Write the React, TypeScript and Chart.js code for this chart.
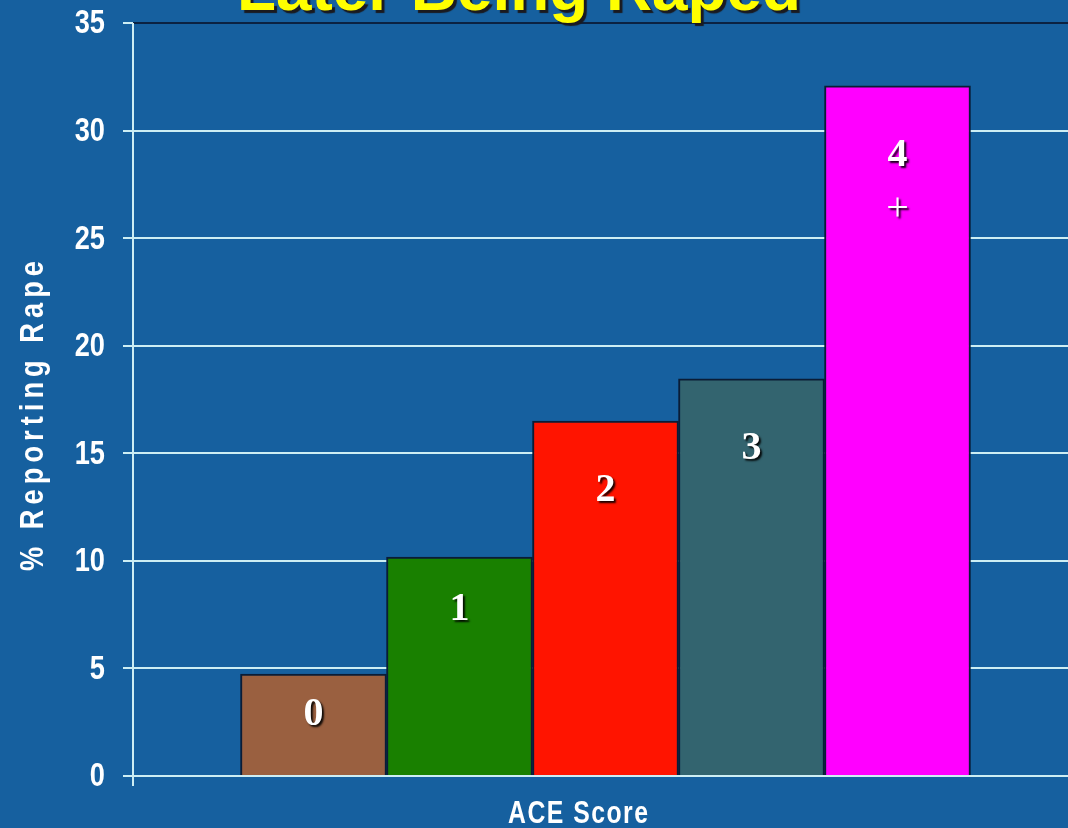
import React, { useEffect, useRef } from 'react';
import { Chart, registerables } from 'chart.js';

Chart.register(...registerables);

const categories = ['0', '1', '2', '3', '4+'];
const values = [4.74, 10.18, 16.5, 18.46, 32.08];
const barColors = ['#9a6040', '#198000', '#ff1400', '#33646f', '#ff00ff'];
const yMin = 0;
const yMax = 35;
const yStep = 5;
const titleText = 'Later Being Raped';
const yTitle = '% Reporting Rape';
const xTitle = 'ACE Score';

const BG = '#16609f';
const LIGHT = '#cdeef4';
const DARK = '#0b2242';
const SANS = '"Liberation Sans", Arial, sans-serif';
const SQUEEZE = 0.8;

function fillSqueezed(ctx: any, text: string, x: number, y: number, font: string, align: string, targetWidth?: number) {
  ctx.save();
  ctx.font = font;
  ctx.translate(x, y);
  ctx.scale(SQUEEZE, 1);
  ctx.textAlign = 'left';
  let spacing = 0;
  const w0 = ctx.measureText(text).width;
  if (targetWidth) {
    spacing = Math.max(0, (targetWidth / SQUEEZE - w0) / Math.max(1, text.length - 1));
  }
  const total = w0 + spacing * (text.length - 1);
  let start = 0;
  if (align === 'center') start = -total / 2;
  else if (align === 'right') start = -total;
  let cx = start;
  for (const ch of text) {
    ctx.fillText(ch, cx, 0);
    cx += ctx.measureText(ch).width + spacing;
  }
  ctx.restore();
}

const decor = {
  id: 'decor',
  beforeDraw(chart: any) {
    const { ctx, width, height } = chart;
    ctx.save();
    ctx.fillStyle = BG;
    ctx.fillRect(0, 0, width, height);
    ctx.restore();
  },
  afterDatasetsDraw(chart: any) {
    const { ctx } = chart;
    const meta = chart.getDatasetMeta(0);
    ctx.save();
    ctx.fillStyle = '#ffffff';
    ctx.textAlign = 'center';
    ctx.textBaseline = 'middle';
    ctx.shadowColor = 'rgba(0,0,0,0.9)';
    ctx.shadowOffsetX = 2;
    ctx.shadowOffsetY = 2;
    ctx.shadowBlur = 2;
    meta.data.forEach((el: any, i: number) => {
      const label = categories[i];
      const h = el.base - el.y;
      const y = el.y + Math.max(41, Math.min(70, h * 0.24));
      const main = label.replace('+', '');
      ctx.font = 'bold 40px "Liberation Serif", "Times New Roman", serif';
      ctx.fillText(main, el.x, y);
      if (label.includes('+')) {
        ctx.font = 'normal 40px "Liberation Serif", "Times New Roman", serif';
        ctx.fillText('+', el.x, y + 54);
      }
    });
    ctx.restore();
  },
  afterDraw(chart: any) {
    const { ctx, chartArea } = chart;
    const yScale = chart.scales.y;
    ctx.save();
    // y axis line
    ctx.strokeStyle = LIGHT;
    ctx.lineWidth = 2;
    ctx.beginPath();
    ctx.moveTo(chartArea.left, chartArea.top);
    ctx.lineTo(chartArea.left, chartArea.bottom + 10);
    ctx.stroke();

    // y tick labels
    ctx.fillStyle = '#ffffff';
    ctx.textBaseline = 'middle';
    yScale.ticks.forEach((t: any) => {
      const py = yScale.getPixelForValue(t.value);
      fillSqueezed(ctx, String(t.value), chartArea.left - 28, py + 1, `bold 34px ${SANS}`, 'right');
    });
    ctx.textBaseline = 'alphabetic';

    // title (cropped at top)
    let size = 64;
    ctx.font = `bold ${size}px ${SANS}`;
    const w = ctx.measureText(titleText).width;
    size = size * 564 / w;
    ctx.font = `bold ${size}px ${SANS}`;
    ctx.textAlign = 'center';
    ctx.shadowColor = '#1a1a20';
    ctx.shadowOffsetX = 3;
    ctx.shadowOffsetY = 3;
    ctx.shadowBlur = 1;
    ctx.fillStyle = '#ffff00';
    ctx.fillText(titleText, 519, 10);
    ctx.shadowColor = 'transparent';
    ctx.shadowOffsetX = 0;
    ctx.shadowOffsetY = 0;
    ctx.shadowBlur = 0;

    // y title
    ctx.fillStyle = '#ffffff';
    ctx.save();
    ctx.translate(43, 416);
    ctx.rotate(-Math.PI / 2);
    fillSqueezed(ctx, yTitle, 0, 0, `bold 34px ${SANS}`, 'center', 310);
    ctx.restore();

    // x title
    fillSqueezed(ctx, xTitle, 578, 823, `bold 31px ${SANS}`, 'center', 140);
    ctx.restore();
  },
};

export default function App() {
  const ref = useRef<HTMLCanvasElement | null>(null);
  useEffect(() => {
    if (!ref.current) return;
    const data = categories.map((c, i) => ({ x: i, y: values[i] }));
    const chart = new Chart(ref.current, {
      type: 'bar',
      data: {
        datasets: [
          {
            label: '% Reporting Rape',
            data,
            backgroundColor: barColors,
            borderColor: '#0a1c36',
            borderWidth: { top: 2, left: 2, right: 2, bottom: 0 },
            barPercentage: 1,
            categoryPercentage: 1,
          },
        ],
      },
      options: {
        responsive: false,
        animation: false,
        devicePixelRatio: 1,
        layout: { padding: { top: 23, left: 0, right: 0, bottom: 0 } },
        plugins: { legend: { display: false }, tooltip: { enabled: false }, title: { display: false } },
        scales: {
          x: {
            type: 'linear',
            offset: false,
            min: -1.2363,
            max: 5.1678,
            ticks: { display: false, stepSize: 1, includeBounds: false },
            grid: { display: false },
            border: { display: false },
            afterFit: (s: any) => { s.height = 52; },
          },
          y: {
            min: yMin,
            max: yMax,
            ticks: { stepSize: yStep, display: false },
            grid: {
              color: (c: any) => (c.tick && c.tick.value === yMax ? DARK : LIGHT),
              tickColor: LIGHT,
              lineWidth: 2,
              tickLength: 10,
              drawTicks: true,
            },
            border: { display: false },
            afterFit: (s: any) => { s.width = 133; },
          },
        },
      },
      plugins: [decor],
    } as any);
    return () => chart.destroy();
  }, []);
  return (
    <div style={{ position: 'fixed', left: 0, top: 0, width: 1068, height: 828, background: BG }}>
      <canvas ref={ref} width={1068} height={828} style={{ display: 'block' }} />
    </div>
  );
}
